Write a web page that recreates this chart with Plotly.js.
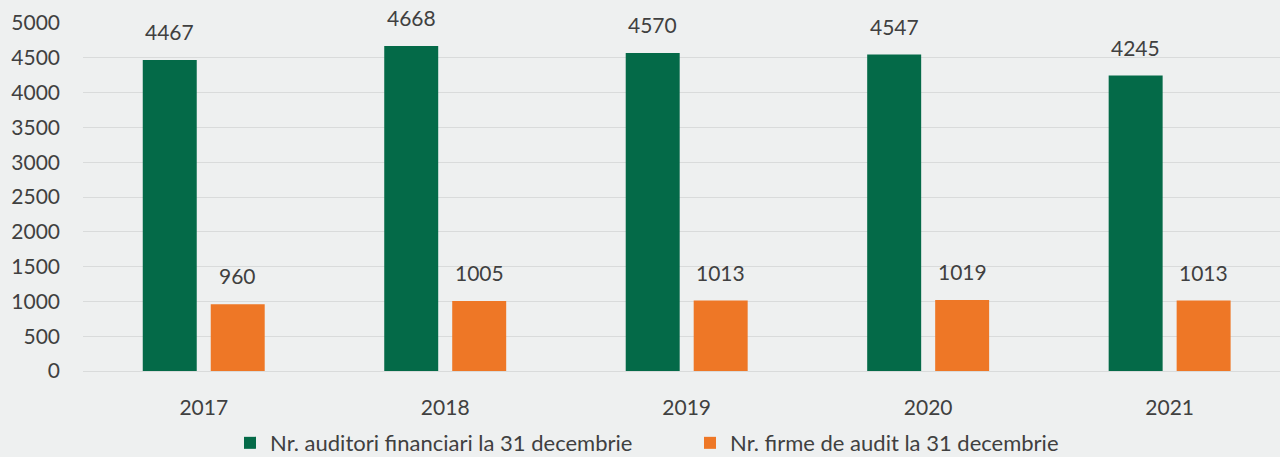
<!DOCTYPE html>
<html>
<head>
<meta charset="utf-8">
<script src="https://cdn.plot.ly/plotly-3.0.1.min.js"></script>
<style>html,body{margin:0;padding:0;background:#eef0f0;}#chart{width:1280px;height:457px;}</style>
</head>
<body>
<div id="chart"></div>
<script>
const years = ["2017", "2018", "2019", "2020", "2021"];
const auditori = [4467, 4668, 4570, 4547, 4245];
const firme = [960, 1005, 1013, 1019, 1013];
const seriesNames = ["Nr. auditori financiari la 31 decembrie", "Nr. firme de audit la 31 decembrie"];
const yTicks = [0, 500, 1000, 1500, 2000, 2500, 3000, 3500, 4000, 4500, 5000];

const FONT = "Lato, 'Open Sans', sans-serif";
const TXT = "#404040";
const GREEN = "#046a48";
const ORANGE = "#ee7726";

const traces = [
  {type: "bar", name: seriesNames[0], x: years, y: auditori, marker: {color: GREEN}, hoverinfo: "none"},
  {type: "bar", name: seriesNames[1], x: years, y: firme, marker: {color: ORANGE}, hoverinfo: "none"}
];

const annotations = [];
years.forEach((yr, i) => {
  annotations.push({x: i, y: auditori[i], xref: "x", yref: "y", text: String(auditori[i]), showarrow: false,
    xanchor: "center", yanchor: "bottom", xshift: -34, yshift: 14, font: {family: FONT, size: 21, color: TXT}});
  annotations.push({x: i, y: firme[i], xref: "x", yref: "y", text: String(firme[i]), showarrow: false,
    xanchor: "center", yanchor: "bottom", xshift: 34, yshift: 14, font: {family: FONT, size: 21, color: TXT}});
});

const layout = {
  width: 1280, height: 457,
  paper_bgcolor: "#eef0f0", plot_bgcolor: "#eef0f0",
  margin: {l: 83, r: 0, t: 23, b: 86, autoexpand: false},
  barmode: "group", bargap: 0.437, bargroupgap: 0.206,
  font: {family: FONT, color: TXT, size: 21},
  xaxis: {type: "category", range: [-0.5, 4.457], showgrid: false, zeroline: false, showline: false,
    ticks: "", ticklabelstandoff: 22, tickfont: {family: FONT, size: 21, color: TXT}},
  yaxis: {range: [0, 5000], tickvals: yTicks, ticktext: yTicks.map(String), showgrid: true, gridcolor: "#d9dbdb", gridwidth: 1,
    zeroline: true, zerolinecolor: "#d9dbdb", showline: false, ticks: "", ticklabelstandoff: 22,
    tickfont: {family: FONT, size: 21, color: TXT}},
  showlegend: true,
  legend: {orientation: "h", x: (230 - 83) / 1197, xanchor: "left", y: -0.207, yanchor: "middle",
    entrywidth: 415, entrywidthmode: "pixels",
    font: {family: FONT, size: 22, color: TXT}, itemwidth: 30, tracegroupgap: 0, bgcolor: "rgba(0,0,0,0)"},
  annotations: annotations
};

Plotly.newPlot("chart", traces, layout, {displayModeBar: false, staticPlot: true});
</script>
</body>
</html>
